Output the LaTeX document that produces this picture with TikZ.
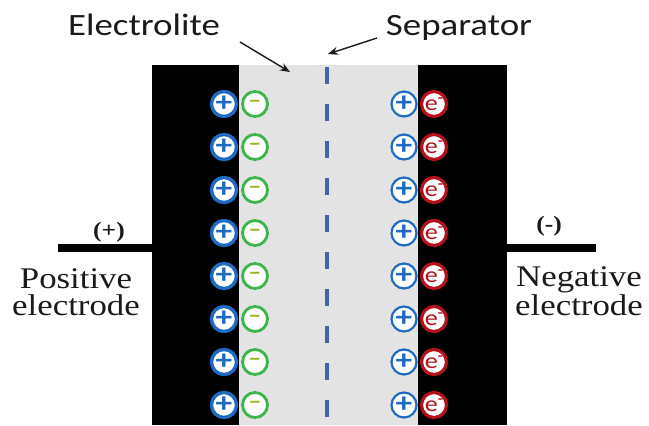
\documentclass[tikz,border=0pt]{standalone}
\usepackage{fontspec}
\setmainfont[FakeStretch=1.16]{Liberation Serif}
\newfontfamily\labelfont[FakeStretch=1.19]{Carlito}
\usetikzlibrary{arrows.meta,positioning,calc}
\definecolor{ink}{HTML}{1A1A1A}
\definecolor{cation}{HTML}{1F6BC4}
\definecolor{anion}{HTML}{3DB54A}
\definecolor{minuscol}{HTML}{9DB320}
\definecolor{electron}{HTML}{B3121B}
\definecolor{sepline}{HTML}{4466A6}
\definecolor{gel}{HTML}{E3E3E3}

\begin{document}
\begin{tikzpicture}[x=0.5pt,y=-0.5pt,
   ion/.style={circle,draw=#1,fill=white,line width=1.4pt,inner sep=0pt,minimum size=12.5pt},
   tag/.style={font=\labelfont\fontsize{15.5}{17}\selectfont,text=ink},
   elab/.style={font=\fontsize{15}{13.5}\selectfont,align=center,text=ink},
   pole/.style={font=\bfseries\fontsize{11}{12}\selectfont,text=ink},
   sign/.style={font=\labelfont\bfseries\fontsize{14}{14}\selectfont},
   wire/.style={black,line width=3.8pt},
   pointer/.style={-{Stealth[length=5pt,width=4pt]},ink,line width=0.7pt}]
  \useasboundingbox (0,0) rectangle (649,425);
  % electrolyte and the two electrodes
  \fill[gel] (239,65) rectangle (418,425);
  \fill[black] (152,65) rectangle (239,425);
  \fill[black] (418,65) rectangle (507,425);
  \draw[sepline,line width=2pt,dash pattern=on 8.5pt off 10pt] (327,67) -- (327,425);
  % double layer of ions
  \foreach \i in {0,...,7}{
    \pgfmathsetmacro{\yy}{104+43*\i}
    \node[ion=cation,line width=1.7pt,text=cation,sign] (pl\i) at (224,\yy) {+};
    \node[ion=anion,text=minuscol,sign] (mn\i) at (255,\yy) {\fontsize{11}{11}\selectfont\textendash};
    \node[ion=cation,line width=1.1pt,text=cation,sign] (pr\i) at (404,\yy) {+};
    \node[ion=electron,line width=1.6pt,text=electron,font=\labelfont\fontsize{11}{11}\selectfont] (el\i) at (434,\yy)
       {e\raisebox{0.75ex}{\fontsize{7}{7}\selectfont\bfseries-}};
  }
  % terminals
  \coordinate (pw) at (152,248);
  \coordinate (pend) at (58,248);
  \coordinate (nw) at (507,248);
  \coordinate (nend) at (596,248);
  \draw[wire] (pw) -- (pend);
  \draw[wire] (nw) -- (nend);
  \node[pole] (pp) at (109,232) {(+)};
  \node[pole] (np) at (549,226) {(-)};
  \node[elab] (plab) at (76,292) {Positive\\electrode};
  \node[elab] (nlab) at (579,291) {Negative\\electrode};
  % top labels
  \node[tag,anchor=base] (etag) at (144,35) {Electrolite};
  \node[tag,anchor=base] (stag) at (459,35) {Separator};
  \coordinate (ea) at (240,42);
  \coordinate (eb) at (290,72);
  \coordinate (sa) at (377,38);
  \coordinate (sb) at (328,54);
  \draw[pointer] (ea) -- (eb);
  \draw[pointer] (sa) -- (sb);
\end{tikzpicture}
\end{document}
